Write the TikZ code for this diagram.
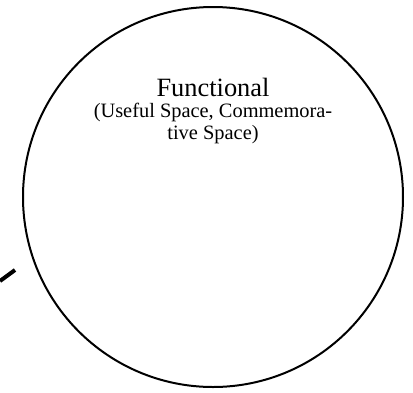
\documentclass[tikz,border=0pt]{standalone}
\usepackage{fontspec}
\setmainfont{Liberation Serif}
\usetikzlibrary{positioning}

\begin{document}
\begin{tikzpicture}[x=1pt, y=-1pt]
	%%%%% START %%%%%
	
	\useasboundingbox (0, 0) rectangle (413, 392);
	
	\coordinate (centre) at (213, 197);
	\draw[line width=2pt, color=black] (centre) circle[radius=190pt];
	
	\node[anchor=base, inner sep=0] (title) at (213, 96) {\fontsize{26.4}{30}\selectfont Functional};
	\node[below=6.5pt of title, inner sep=0, align=center, font=\fontsize{20.4}{21.5}\selectfont] (sub) {(Useful Space, Commemora-\\tive Space)};
	
	\coordinate (stubA) at (0, 281);
	\coordinate (stubB) at (15, 270);
	\draw[line width=4pt] (stubA) -- (stubB);
	
	%%%%% END %%%%%
\end{tikzpicture}
\end{document}
